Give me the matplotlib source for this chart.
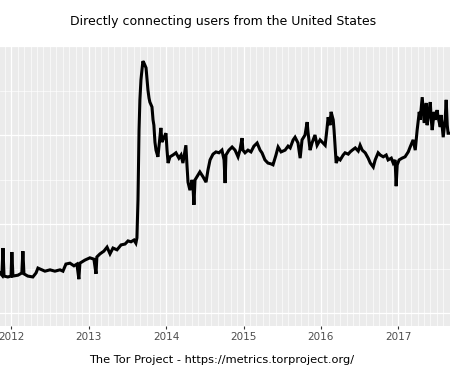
import numpy as np
import pandas as pd
import matplotlib
matplotlib.use('Agg')
import matplotlib.pyplot as plt
import matplotlib.dates as mdates

TITLE = 'Directly connecting users from the United States'
CAPTION = 'The Tor Project - https://metrics.torproject.org/'

# users in thousands
dates = [
    '2011-11-09', '2011-11-18', '2011-11-23', '2011-11-28', '2011-12-16', '2011-12-31',
    '2012-01-04', '2012-01-09', '2012-02-02', '2012-02-20', '2012-02-25', '2012-03-01',
    '2012-03-19', '2012-04-12', '2012-04-27', '2012-05-06', '2012-06-08', '2012-07-02',
    '2012-07-25', '2012-08-18', '2012-09-01', '2012-09-15', '2012-10-04', '2012-10-23',
    '2012-11-06', '2012-11-15', '2012-11-20', '2012-12-14', '2013-01-06', '2013-01-25',
    '2013-02-04', '2013-02-08', '2013-02-23', '2013-03-13', '2013-03-28', '2013-04-11',
    '2013-04-25', '2013-05-14', '2013-06-02', '2013-06-21', '2013-07-05', '2013-07-19',
    '2013-08-02', '2013-08-11', '2013-08-16', '2013-08-21', '2013-08-26', '2013-08-30',
    '2013-09-04', '2013-09-13', '2013-09-18', '2013-09-28', '2013-10-02', '2013-10-07',
    '2013-10-12', '2013-10-16', '2013-10-26', '2013-10-31', '2013-11-04', '2013-11-09',
    '2013-11-14', '2013-11-23', '2013-12-03', '2013-12-07', '2013-12-12', '2013-12-22',
    '2013-12-31', '2014-01-05', '2014-01-10', '2014-01-19', '2014-02-02', '2014-02-16',
    '2014-03-02', '2014-03-12', '2014-03-21', '2014-03-31', '2014-04-04', '2014-04-09',
    '2014-04-14', '2014-04-23', '2014-05-03', '2014-05-07', '2014-05-12', '2014-05-17',
    '2014-05-26', '2014-06-09', '2014-06-24', '2014-07-08', '2014-07-17', '2014-07-27',
    '2014-08-10', '2014-08-24', '2014-09-07', '2014-09-21', '2014-10-01', '2014-10-06',
    '2014-10-10', '2014-10-24', '2014-11-08', '2014-11-22', '2014-12-06', '2014-12-15',
    '2014-12-25', '2014-12-29', '2015-01-08', '2015-01-22', '2015-02-05', '2015-02-19',
    '2015-03-06', '2015-03-20', '2015-03-29', '2015-04-12', '2015-04-26', '2015-05-11',
    '2015-05-20', '2015-06-03', '2015-06-13', '2015-06-27', '2015-07-16', '2015-07-30',
    '2015-08-09', '2015-08-23', '2015-09-01', '2015-09-15', '2015-09-25', '2015-10-04',
    '2015-10-18', '2015-10-28', '2015-11-01', '2015-11-11', '2015-11-20', '2015-12-04',
    '2015-12-14', '2015-12-28', '2016-01-11', '2016-01-21', '2016-01-30', '2016-02-04',
    '2016-02-13', '2016-02-18', '2016-02-28', '2016-03-03', '2016-03-13', '2016-03-22',
    '2016-04-01', '2016-04-15', '2016-04-24', '2016-05-09', '2016-05-18', '2016-05-28',
    '2016-06-11', '2016-06-25', '2016-07-04', '2016-07-14', '2016-07-28', '2016-08-11',
    '2016-08-21', '2016-09-04', '2016-09-13', '2016-09-27', '2016-10-07', '2016-10-21',
    '2016-11-04', '2016-11-13', '2016-11-28', '2016-12-07', '2016-12-16', '2016-12-21',
    '2016-12-26', '2017-01-04', '2017-01-18', '2017-02-01', '2017-02-16', '2017-02-25',
    '2017-03-11', '2017-03-21', '2017-03-30', '2017-04-09', '2017-04-13', '2017-04-23',
    '2017-04-28', '2017-05-02', '2017-05-12', '2017-05-16', '2017-05-21', '2017-05-31',
    '2017-06-04', '2017-06-09', '2017-06-18', '2017-06-23', '2017-07-02', '2017-07-07',
    '2017-07-17', '2017-07-21', '2017-07-31', '2017-08-09', '2017-08-14', '2017-08-19',
    '2017-08-23', '2017-09-02',
]
users = [
    90, 85, 146, 83, 81, 83,
    137, 83, 85, 90, 139, 88,
    83, 81, 90, 101, 94, 97,
    94, 97, 94, 110, 112, 106,
    110, 76, 112, 119, 124, 121,
    88, 126, 133, 139, 148, 133,
    146, 142, 153, 155, 162, 160,
    164, 157, 169, 254, 411, 479,
    524, 566, 562, 551, 528, 501,
    483, 474, 463, 434, 422, 384,
    366, 351, 398, 416, 384, 395,
    404, 366, 337, 351, 355, 360,
    348, 355, 337, 366, 377, 333,
    294, 276, 299, 288, 243, 299,
    306, 317, 306, 294, 321, 344,
    357, 362, 360, 366, 344, 292,
    355, 366, 373, 366, 351, 366,
    393, 366, 360, 366, 362, 375,
    382, 366, 360, 344, 337, 335,
    333, 355, 373, 362, 366, 375,
    371, 389, 395, 382, 348, 389,
    400, 429, 407, 366, 382, 400,
    377, 389, 382, 377, 416, 440,
    422, 452, 434, 411, 337, 348,
    344, 355, 360, 357, 362, 366,
    371, 364, 377, 366, 360, 348,
    337, 328, 344, 360, 355, 351,
    355, 344, 348, 337, 344, 285,
    333, 344, 348, 351, 362, 373,
    389, 366, 411, 452, 434, 485,
    452, 427, 472, 422, 440, 474,
    438, 411, 452, 434, 456, 440,
    418, 445, 395, 434, 479, 422,
    404, 404,
]

df = pd.DataFrame({'date': pd.to_datetime(dates), 'users': np.array(users) * 1000})

fig = plt.figure(figsize=(4.5, 3.74), dpi=100)
ax = fig.add_axes([0, 1 - 326 / 374, 1, (326 - 46) / 374])
ax.set_facecolor('#EBEBEB')
for s in ax.spines.values():
    s.set_visible(False)

ax.plot(df['date'], df['users'], color='black', linewidth=2.2, solid_joinstyle='miter')

ax.set_xlim(pd.Timestamp('2011-11-09'), pd.Timestamp('2017-09-01'))
ax.set_ylim(-29200, 600000)

ax.xaxis.set_major_locator(mdates.YearLocator())
ax.xaxis.set_major_formatter(mdates.DateFormatter('%Y'))
ax.xaxis.set_minor_locator(mdates.MonthLocator())
ax.set_yticks([0, 200000, 400000, 600000])
ax.set_yticks([100000, 300000, 500000], minor=True)

ax.grid(True, which='major', color='white', linewidth=0.9)
ax.grid(True, which='minor', color='white', linewidth=0.45)
ax.set_axisbelow(True)

ax.tick_params(axis='x', which='major', length=2.5, width=0.8, color='#333333',
               labelsize=7.5, labelcolor='#4D4D4D', pad=2)
ax.tick_params(axis='x', which='minor', length=0)
ax.tick_params(axis='y', which='both', length=0, labelleft=False)

fig.text(0.495, 1 - 22 / 374, TITLE, ha='center', va='center', fontsize=9, color='black')
fig.text(0.493, 1 - 360 / 374, CAPTION, ha='center', va='center', fontsize=8.2, color='black')

fig.savefig('out.png', dpi=100)
